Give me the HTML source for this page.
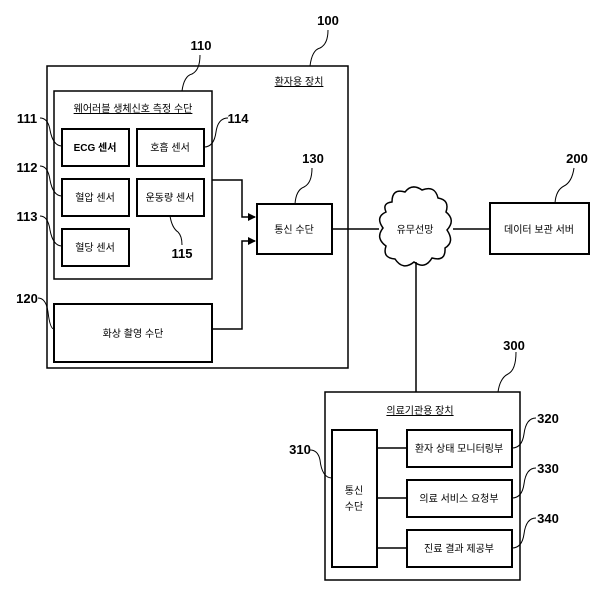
<!DOCTYPE html>
<html><head><meta charset="utf-8"><style>
html,body{margin:0;padding:0;background:#fff;}
svg text{font-family:"Liberation Sans","Noto Sans CJK KR",sans-serif;fill:#000;}
</style></head><body>
<svg width="601" height="601" viewBox="0 0 601 601" xmlns="http://www.w3.org/2000/svg">
<defs><marker id="a" markerWidth="8" markerHeight="8" refX="7" refY="4" orient="auto" markerUnits="userSpaceOnUse"><path d="M0,0 L8,4 L0,8 z" fill="#000"/></marker></defs>
<g fill="none" stroke="#000" stroke-width="1.5">
<rect x="47" y="66" width="301" height="302"/>
<rect x="54" y="91" width="158" height="188"/>
<rect x="62" y="129" width="67" height="37" stroke-width="2"/>
<rect x="137" y="129" width="67" height="37" stroke-width="2"/>
<rect x="62" y="179" width="67" height="37" stroke-width="2"/>
<rect x="137" y="179" width="67" height="37" stroke-width="2"/>
<rect x="62" y="229" width="67" height="37" stroke-width="2"/>
<rect x="54" y="304" width="158" height="58" stroke-width="2"/>
<rect x="257" y="204" width="75" height="50" stroke-width="2"/>
<polyline points="212,180 242,180 242,217 255,217" marker-end="url(#a)"/>
<polyline points="212,329 242,329 242,241 255,241" marker-end="url(#a)"/>
<line x1="332" y1="229" x2="379" y2="229"/>
<line x1="453" y1="229" x2="490" y2="229"/>
<line x1="416" y1="262" x2="416" y2="392"/>
<rect x="490" y="203" width="99" height="51" stroke-width="2"/>
<path d="M392,202 Q392,188 405,192 Q412,183 422,190 Q435,185 438,198 Q450,200 446,212 Q456,220 447,230 Q455,242 445,248 Q446,262 432,258 Q425,270 414,262 Q403,271 395,259 Q382,258 386,246 Q375,238 383,228 Q375,217 386,212 Q382,203 392,202 Z"/>
<rect x="325" y="392" width="195" height="188"/>
<rect x="332" y="430" width="45" height="137" stroke-width="2"/>
<rect x="407" y="430" width="105" height="37" stroke-width="2"/>
<rect x="407" y="480" width="105" height="37" stroke-width="2"/>
<rect x="407" y="530" width="105" height="37" stroke-width="2"/>
<line x1="377" y1="448" x2="407" y2="448"/>
<line x1="377" y1="498" x2="407" y2="498"/>
<line x1="377" y1="548" x2="407" y2="548"/>
<g stroke-width="1">
<path d="M310,66 Q312,50 320,48 Q328,44 328,30"/>
<path d="M182,91 Q184,76 192,74 Q200,70 200,55"/>
<path d="M40,118 Q48,118 50,130 Q53,146 62,146"/>
<path d="M40,166 Q48,166 50,180 Q53,196 62,196"/>
<path d="M40,216 Q48,216 50,230 Q53,246 62,246"/>
<path d="M204,147 Q214,147 216,132 Q218,118 228,118"/>
<path d="M170,216 Q172,228 178,232 Q182,236 182,245"/>
<path d="M38,298 Q46,298 48,312 Q50,329 54,329"/>
<path d="M295,204 Q296,190 304,187 Q312,183 312,168"/>
<path d="M555,203 Q556,190 564,186 Q572,182 574,168"/>
<path d="M498,392 Q500,378 508,374 Q516,370 516,352"/>
<path d="M310,450 Q318,450 320,460 Q322,478 332,478"/>
<path d="M512,448 Q522,448 524,434 Q526,418 536,418"/>
<path d="M512,498 Q522,498 524,484 Q526,468 536,468"/>
<path d="M512,548 Q522,548 524,534 Q526,518 536,518"/>
</g>
</g>
<g font-size="10" text-anchor="middle">
<text x="299" y="85" text-decoration="underline">환자용 장치</text>
<text x="133" y="112" text-decoration="underline">웨어러블 생체신호 측정 수단</text>
<text x="95" y="151" font-weight="bold">ECG 센서</text>
<text x="170" y="151">호흡 센서</text>
<text x="95" y="201">혈압 센서</text>
<text x="170" y="201">운동량 센서</text>
<text x="95" y="251">혈당 센서</text>
<text x="133" y="337">화상 촬영 수단</text>
<text x="294" y="233">통신 수단</text>
<text x="415" y="233">유무선망</text>
<text x="539" y="233">데이터 보관 서버</text>
<text x="420" y="414" text-decoration="underline">의료기관용 장치</text>
<text x="354" y="494">통신</text>
<text x="354" y="510">수단</text>
<text x="459" y="452">환자 상태 모니터링부</text>
<text x="459" y="502">의료 서비스 요청부</text>
<text x="459" y="552">진료 결과 제공부</text>
</g>
<g font-size="13" font-weight="bold" text-anchor="middle" font-family="Liberation Sans Narrow,Liberation Sans,sans-serif">
<text x="328" y="25">100</text>
<text x="201" y="50">110</text>
<text x="27" y="123">111</text>
<text x="27" y="172">112</text>
<text x="27" y="221">113</text>
<text x="238" y="123">114</text>
<text x="182" y="258">115</text>
<text x="27" y="303">120</text>
<text x="313" y="163">130</text>
<text x="577" y="163">200</text>
<text x="514" y="350">300</text>
<text x="300" y="454">310</text>
<text x="548" y="423">320</text>
<text x="548" y="473">330</text>
<text x="548" y="523">340</text>
</g>
</svg>
</body></html>
